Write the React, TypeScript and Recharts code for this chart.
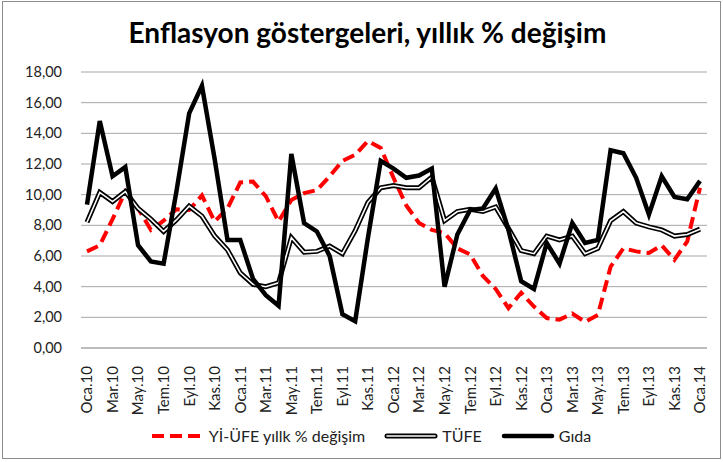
import React from 'react';
import { LineChart, Line, XAxis, YAxis, CartesianGrid } from 'recharts';

const MONTHS = ['Oca', 'Şub', 'Mar', 'Nis', 'May', 'Haz', 'Tem', 'Ağu', 'Eyl', 'Eki', 'Kas', 'Ara'];
const YEARS = ['10', '11', '12', '13'];

// Oca.10 ... Ara.13, then Oca.14
const periods: string[] = [...YEARS.flatMap(y => MONTHS.map(m => `${m}.${y}`)), 'Oca.14'];

const yiUfe = [
  6.3, 6.7, 8.4, 10.2, 9.1, 7.7, 8.3, 9.05, 9.0, 9.95, 8.25, 9.1,
  10.8, 10.85, 9.9, 8.25, 9.65, 10.1, 10.3, 11.2, 12.2, 12.6, 13.5, 13.05,
  11.1, 9.3, 8.15, 7.7, 7.5, 6.5, 6.1, 4.7, 3.85, 2.6, 3.6, 2.7,
  1.95, 1.85, 2.25, 1.7, 2.15, 5.3, 6.5, 6.3, 6.2, 6.7, 5.75, 6.95,
  10.45,
];

const tufe = [
  8.2, 10.15, 9.55, 10.2, 9.1, 8.4, 7.6, 8.35, 9.25, 8.6, 7.3, 6.4,
  4.9, 4.15, 4.0, 4.25, 7.2, 6.25, 6.3, 6.65, 6.15, 7.65, 9.5, 10.45,
  10.6, 10.45, 10.45, 11.15, 8.3, 8.9, 9.05, 8.9, 9.2, 7.8, 6.35, 6.15,
  7.3, 7.05, 7.3, 6.15, 6.5, 8.3, 8.9, 8.15, 7.9, 7.7, 7.3, 7.4,
  7.75,
];

const gida = [
  9.35, 14.8, 11.2, 11.8, 6.7, 5.65, 5.5, 10.2, 15.3, 17.1, 12.3, 7.05,
  7.05, 4.5, 3.45, 2.75, 12.65, 8.15, 7.6, 6.0, 2.2, 1.75, 7.2, 12.2,
  11.7, 11.1, 11.25, 11.7, 4.0, 7.4, 9.0, 9.1, 10.4, 7.7, 4.35, 3.85,
  6.85, 5.5, 8.15, 6.85, 7.05, 12.9, 12.7, 11.1, 8.7, 11.2, 9.85, 9.7,
  10.9,
];

const yTicks = [0, 2, 4, 6, 8, 10, 12, 14, 16, 18];

const data = periods.map((p, i) => ({ period: p, yiUfe: yiUfe[i], tufe: tufe[i], gida: gida[i] }));

const FONT = 'Lato, "Noto Sans", sans-serif';

const XTick = (props: any) => {
  const { x, y, payload } = props;
  const ty = y + 10;
  return (
    <text x={x} y={ty} transform={`rotate(-90 ${x} ${ty})`} textAnchor="end" dy="0.36em"
      fontSize={15} fontFamily={FONT} fill="#222">
      {payload.value}
    </text>
  );
};

const LegendItem = ({ label, sample }: { label: string; sample: React.ReactNode }) => (
  <div style={{ display: 'flex', alignItems: 'center', marginRight: 18 }}>
    <svg width={56} height={10} style={{ marginRight: 3 }}>{sample}</svg>
    <span>{label}</span>
  </div>
);

export default function App() {
  return (
    <div style={{ position: 'absolute', left: 0, top: 0, width: 723, height: 462, background: '#fff', fontFamily: FONT }}>
      <div style={{ position: 'absolute', left: 2, top: 1, width: 717, height: 456, border: '1px solid #8c8c8c' }} />
      <div style={{ position: 'absolute', left: 6, top: 15, width: 723, textAlign: 'center', fontSize: 28, fontWeight: 700, color: '#000' }}>
        Enflasyon göstergeleri, yıllık % değişim
      </div>
      <div style={{ position: 'absolute', left: 0, top: 0 }}>
        <LineChart width={723} height={462} data={data} margin={{ top: 72, right: 16, left: 0, bottom: 49 }}>
          <CartesianGrid vertical={false} stroke="#a6a6a6" />
          <XAxis dataKey="period" interval={1} height={65} tick={<XTick />} tickLine={false}
            padding={{ left: 6, right: 7 }} axisLine={{ stroke: '#a6a6a6' }} />
          <YAxis width={81} domain={[0, 18]} ticks={yTicks} axisLine={false} tickLine={false} tickMargin={13}
            tickFormatter={(v: number) => v.toFixed(2).replace('.', ',')}
            tick={{ fontSize: 14.5, fontFamily: FONT, fill: '#222' }} />
          <Line type="linear" dataKey="yiUfe" stroke="#ff0000" strokeWidth={4} strokeDasharray="12 6"
            dot={false} activeDot={false} isAnimationActive={false} />
          <Line type="linear" dataKey="tufe" stroke="#000" strokeWidth={5}
            dot={false} activeDot={false} isAnimationActive={false} />
          <Line type="linear" dataKey="tufe" stroke="#fff" strokeWidth={1.6}
            dot={false} activeDot={false} isAnimationActive={false} />
          <Line type="linear" dataKey="gida" stroke="#000" strokeWidth={4.5}
            dot={false} activeDot={false} isAnimationActive={false} />
        </LineChart>
      </div>
      <div style={{ position: 'absolute', left: 18, top: 426, width: 723, display: 'flex', justifyContent: 'center', fontSize: 16, color: '#222' }}>
        <LegendItem label="Yİ-ÜFE yıllk % değişim"
          sample={<line x1={2} y1={5} x2={54} y2={5} stroke="#ff0000" strokeWidth={4} strokeDasharray="12 6" />} />
        <LegendItem label="TÜFE"
          sample={<g>
            <line x1={4} y1={5} x2={52} y2={5} stroke="#000" strokeWidth={5} strokeLinecap="round" />
            <line x1={4} y1={5} x2={52} y2={5} stroke="#fff" strokeWidth={1.6} strokeLinecap="round" />
          </g>} />
        <LegendItem label="Gıda"
          sample={<line x1={4} y1={5} x2={52} y2={5} stroke="#000" strokeWidth={4.5} strokeLinecap="round" />} />
      </div>
    </div>
  );
}
